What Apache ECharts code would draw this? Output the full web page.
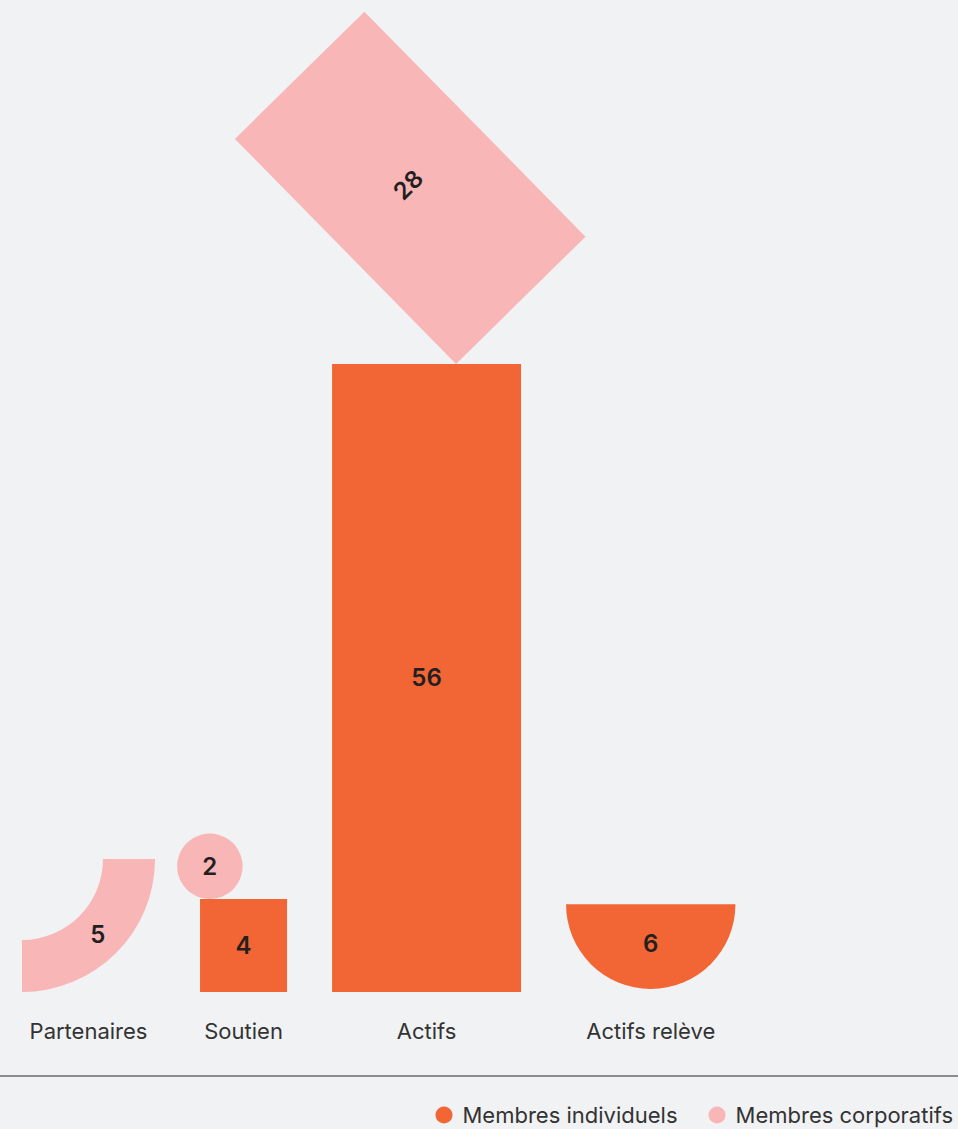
<!DOCTYPE html>
<html>
<head>
<meta charset="utf-8">
<script src="https://cdn.jsdelivr.net/npm/echarts@6/dist/echarts.min.js"></script>
<style>
  html, body { margin: 0; padding: 0; background: #F1F2F4; }
  #chart { width: 958px; height: 1129px; }
</style>
</head>
<body>
<div id="chart"></div>
<script>
// ---- Data ----
const categories = ['Partenaires', 'Soutien', 'Actifs', 'Actifs relève'];
const membresIndividuels = [null, 4, 56, 6];
const membresCorporatifs = [5, 2, 28, null];
const seriesNames = ['Membres individuels', 'Membres corporatifs'];

// ---- Styling ----
const COLOR_IND = '#F26535';
const COLOR_CORP = '#F8B6B7';
const TEXT_DARK = '#231F20';
const SHAPES_IND = [null, 'square', 'bar', 'halfDisc'];
const SHAPES_CORP = ['quarterRing', 'disc', 'tiltedRect', null];
const AREA_FACTOR = { bar: 1, tiltedRect: 0.965, square: 0.955, halfDisc: 0.886, quarterRing: 0.825, disc: 0.793 };
const FONT = 'Inter, "Noto Sans", sans-serif';
const START_PAD = 22, GAP = 45;

function dims(shape, v, A, u) {
  const area = v * A * AREA_FACTOR[shape];
  switch (shape) {
    case 'bar': { const h = v * u; return { w: area / h, h: h }; }
    case 'square': { const w = Math.sqrt(area / 1.069); return { w: w, h: w * 1.069 }; }
    case 'disc': { const r = Math.sqrt(area / Math.PI); return { w: 2 * r, h: 2 * r, r: r }; }
    case 'halfDisc': { const r = Math.sqrt(2 * area / Math.PI); return { w: 2 * r, h: r, r: r }; }
    case 'quarterRing': { const k = 0.609; const ro = Math.sqrt(area / (Math.PI / 4 * (1 - k * k))); return { w: ro, h: ro, r: ro, r0: ro * k }; }
    case 'tiltedRect': { const s = Math.sqrt(area / 1.738); return { w: s, h: s * 1.738 }; }
  }
}

function computeLayout(api) {
  const u = api.size([0, 1])[1];
  const A = 16.85 * u * u;
  const origin = api.coord([0, 0]);
  let x = origin[0] + START_PAD;
  const out = [];
  categories.forEach(function (c, i) {
    const vi = membresIndividuels[i], vc = membresCorporatifs[i];
    const ind = vi != null ? dims(SHAPES_IND[i], vi, A, u) : null;
    const corp = vc != null ? dims(SHAPES_CORP[i], vc, A, u) : null;
    const base = ind || corp;
    out.push({ left: x, cx: x + base.w / 2, w: base.w, baseY: origin[1], ind: ind, corp: corp, u: u });
    x += base.w + GAP;
  });
  return out;
}

function valueText(x, y, text, rot) {
  return {
    type: 'text', x: x, y: y, rotation: rot || 0, silent: true,
    style: { text: String(text), fill: TEXT_DARK, font: '600 24px ' + FONT, align: 'center', verticalAlign: 'middle' }
  };
}

function renderInd(params, api) {
  const i = api.value(0), v = api.value(1);
  const L = computeLayout(api)[i];
  const d = L.ind, shape = SHAPES_IND[i];
  const children = [];
  if (shape === 'bar') {
    const top = api.coord([0, v])[1];
    children.push({ type: 'rect', shape: { x: L.left, y: top, width: d.w, height: L.baseY - top }, style: { fill: COLOR_IND } });
    children.push(valueText(L.cx, (top + L.baseY) / 2, v));
  } else if (shape === 'square') {
    children.push({ type: 'rect', shape: { x: L.left, y: L.baseY - d.h, width: d.w, height: d.h }, style: { fill: COLOR_IND } });
    children.push(valueText(L.cx, L.baseY - d.h / 2, v));
  } else if (shape === 'halfDisc') {
    const cy = L.baseY - d.r - 3;
    children.push({ type: 'sector', shape: { cx: L.cx, cy: cy, r: d.r, r0: 0, startAngle: 0, endAngle: Math.PI, clockwise: true }, style: { fill: COLOR_IND } });
    children.push(valueText(L.cx, cy + d.r * 0.46, v));
  }
  return { type: 'group', children: children };
}

function renderCorp(params, api) {
  const i = api.value(0), v = api.value(1);
  const L = computeLayout(api)[i];
  const d = L.corp, shape = SHAPES_CORP[i];
  const children = [];
  if (shape === 'quarterRing') {
    const cx = L.left, cy = L.baseY - d.r;
    children.push({ type: 'sector', shape: { cx: cx, cy: cy, r: d.r, r0: d.r0, startAngle: 0, endAngle: Math.PI / 2, clockwise: true }, style: { fill: COLOR_CORP } });
    const rm = (d.r + d.r0) / 2;
    children.push(valueText(cx + rm * Math.SQRT1_2, cy + rm * Math.SQRT1_2, v));
  } else if (shape === 'disc') {
    const sq = L.ind;
    const cx = L.left + d.r * 0.3;
    const cy = L.baseY - sq.h - d.r;
    children.push({ type: 'circle', shape: { cx: cx, cy: cy, r: d.r }, style: { fill: COLOR_CORP } });
    children.push(valueText(cx, cy, v));
  } else if (shape === 'tiltedRect') {
    const bar = L.ind;
    const barTop = L.baseY - bar.h;
    const th = 44.5 * Math.PI / 180;
    const d1 = [Math.cos(th), -Math.sin(th)];
    const d2 = [-Math.sin(th), -Math.cos(th)];
    const p0 = [L.cx + 0.156 * bar.w, barTop];
    const p1 = [p0[0] + d.w * d1[0], p0[1] + d.w * d1[1]];
    const p2 = [p1[0] + d.h * d2[0], p1[1] + d.h * d2[1]];
    const p3 = [p0[0] + d.h * d2[0], p0[1] + d.h * d2[1]];
    children.push({ type: 'polygon', shape: { points: [p0, p1, p2, p3] }, style: { fill: COLOR_CORP } });
    children.push(valueText((p0[0] + p2[0]) / 2 - 2, (p0[1] + p2[1]) / 2 - 3, v, th));
  }
  return { type: 'group', children: children };
}

function renderCat(params, api) {
  const i = api.value(0);
  const L = computeLayout(api)[i];
  return {
    type: 'text', x: L.cx, y: L.baseY + 39, silent: true,
    style: { text: categories[i], fill: '#333333', font: '400 22px ' + FONT, align: 'center', verticalAlign: 'middle' }
  };
}

const chart = echarts.init(document.getElementById('chart'), null, { renderer: 'svg' });
chart.setOption({
  backgroundColor: '#F1F2F4',
  animation: false,
  grid: { left: 0, right: 0, top: 5, bottom: 137 },
  xAxis: { type: 'value', min: 0, max: 958, show: false },
  yAxis: { type: 'value', min: 0, max: 88, show: false },
  legend: {
    data: seriesNames,
    right: 0, top: 1099,
    icon: 'circle', itemWidth: 17, itemHeight: 17, itemGap: 31,
    textStyle: { fontFamily: FONT, fontSize: 22, color: '#333333', padding: [0, 0, 0, 5] }
  },
  graphic: [{
    type: 'line', shape: { x1: 0, y1: 1076, x2: 958, y2: 1076 },
    style: { stroke: '#6B6B6B', lineWidth: 1.5 }, silent: true
  }],
  series: [
    {
      name: seriesNames[0], type: 'custom', itemStyle: { color: COLOR_IND },
      data: membresIndividuels.map(function (v, i) { return [i, v]; }).filter(function (d) { return d[1] != null; }),
      renderItem: renderInd, clip: false
    },
    {
      name: seriesNames[1], type: 'custom', itemStyle: { color: COLOR_CORP },
      data: membresCorporatifs.map(function (v, i) { return [i, v]; }).filter(function (d) { return d[1] != null; }),
      renderItem: renderCorp, clip: false
    },
    {
      name: 'Catégories', type: 'custom', silent: true,
      data: categories.map(function (c, i) { return [i, 0]; }),
      renderItem: renderCat, clip: false
    }
  ]
});
</script>
</body>
</html>
